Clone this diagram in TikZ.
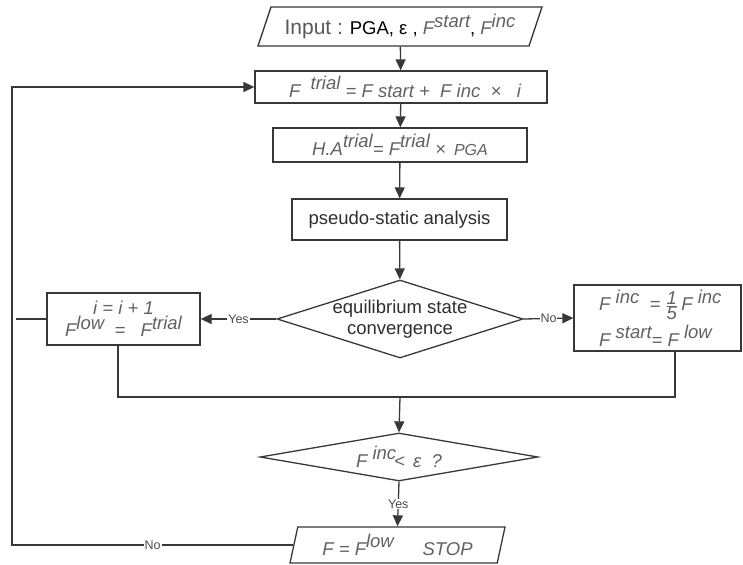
\documentclass[tikz,border=0pt]{standalone}
\usepackage{fontspec}
\setmainfont{Liberation Sans}
\usepackage{tikz}
\usetikzlibrary{arrows.meta,shapes.geometric}
\newcommand{\up}[1]{\raisebox{0.42em}{#1}}
\newcommand{\fml}[1]{{\color{black!62}\itshape #1}}
\newcommand{\fifth}{\ensuremath{\frac{\mbox{1}}{\mbox{5}}}}
\tikzset{
  line/.style={draw=black!78, line width=1.3pt},
  arr/.style={line, -{Triangle[length=11pt,width=10pt]}},
  box/.style={line, rectangle, inner sep=0pt, font=\fontsize{18.5}{21}\selectfont},
  cond/.style={line, diamond, inner sep=-3pt, font=\fontsize{18.5}{21}\selectfont, align=center},
  io/.style={line, trapezium, trapezium stretches body, inner sep=0pt,
    font=\fontsize{18.5}{21}\selectfont},
  yn/.style={fill=white, inner sep=1pt, text=black!70, font=\fontsize{12.5}{14}\selectfont}
}
\begin{document}
\begin{tikzpicture}[x=1pt,y=-1pt]
\useasboundingbox (0,0) rectangle (743,564);
\node[io, trapezium left angle=63, trapezium right angle=117,
  minimum width=284, minimum height=39] (input) at (400,26.5)
  {{\color{black!65}\fontsize{21}{24}\selectfont Input :} PGA, ε , \fml{F\up{start}}, \fml{F\up{inc}}};
\node[box, minimum width=292, minimum height=32] (trial) at (401,87)
  {\hspace*{8pt}\fml{F \ \up{trial} = F start + \ F inc \ × \ \ i}};
\node[box, minimum width=254, minimum height=34] (ha) at (400,145)
  {\fml{H.A\up{trial}= F\up{trial} × \,{\fontsize{16}{18}\selectfont PGA}}};
\node[box, minimum width=215, minimum height=41, text=black!82] (psa) at (399.5,219.5)
  {pseudo-static analysis};
\node[cond, aspect=3.15, minimum width=246, minimum height=78, text=black!82] (conv) at (400,319)
  {equilibrium state\\convergence};
\node[box, minimum width=153, minimum height=52, align=center,
  font=\fontsize{18.5}{16}\selectfont] (lbox) at (123.5,319)
  {\fml{i = i + 1}\\\fml{F\up{low} \ = \ \ F\up{trial}}};
\node[box, minimum width=167, minimum height=66, align=left] (rbox) at (657.5,318)
  {\hspace*{6pt}\fml{F \up{inc} \ = \fifth\,F \up{inc}}\hspace*{-40pt}\\[4pt]\hspace*{6pt}\fml{F \up{start}= F \up{low}}\hspace*{10pt}};
\node[cond, aspect=5.8, minimum width=278, minimum height=48] (eps) at (399,457)
  {\fml{F \up{inc}\kern-2pt< \,ε \ ?}};
\node[io, trapezium left angle=70, trapezium right angle=110,
  minimum width=215, minimum height=36] (stop) at (397.5,545)
  {\fml{F = F\up{low} \quad\ STOP}};
\coordinate (ml) at (118,397);
\coordinate (mr) at (675,397);
\coordinate (mrg) at (400,397);
\coordinate (loop) at (12,0);
\coordinate (stub) at (16,319);
\draw[arr] (input) -- (trial);
\draw[arr] (trial) -- (ha);
\draw[arr] (ha) -- (psa);
\draw[arr] (psa) -- (conv);
\draw[arr] (conv.west) -- node[yn]{Yes} (lbox.east);
\draw[arr] (conv.east) -- node[yn]{No} (rbox.west);
\draw[line] (lbox.west) -- (stub);
\draw[line] (lbox.south -| ml) -- (ml) -- (mr) -- (mr |- rbox.south);
\draw[arr] (mrg) -- (eps.north);
\draw[arr] (eps.south) -- node[yn]{Yes} (stop.north);
\draw[arr] (stop.west) -- node[yn]{No} (stop.west -| loop) |- (trial.west);
\end{tikzpicture}
\end{document}
